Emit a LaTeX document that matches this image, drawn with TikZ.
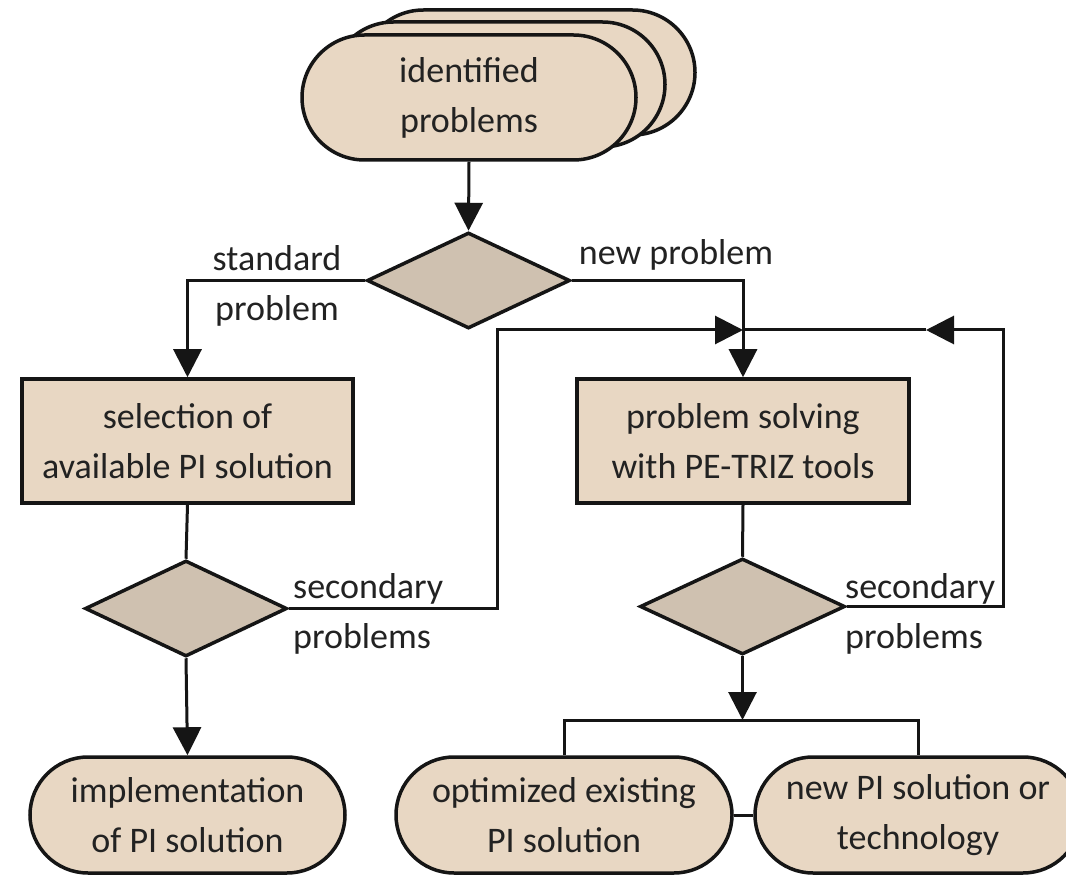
\documentclass[tikz,border=0pt]{standalone}
\usepackage{fontspec}
\setmainfont{Carlito}
\usetikzlibrary{arrows.meta,shapes.geometric}

\definecolor{boxfill}{HTML}{E8D7C3}
\definecolor{decfill}{HTML}{CFC1B0}
\definecolor{ink}{HTML}{151515}
\definecolor{txt}{HTML}{222222}

\tikzset{
  every node/.style={font=\fontsize{36}{50}\selectfont, text=txt, align=center, inner sep=0pt},
  shapeborder/.style={draw=ink, line width=3.5pt},
  stadium/.style={shapeborder, fill=boxfill, rectangle, rounded corners=#1},
  procbox/.style={shapeborder, fill=boxfill, rectangle, minimum width=331pt, minimum height=124pt},
  decision/.style={shapeborder, fill=decfill, diamond, minimum width=203pt, minimum height=96pt},
  conn/.style={draw=ink, line width=3pt},
  arrowconn/.style={conn, -{Triangle[length=28pt,width=28pt]}},
  lbl/.style={text=txt}
}

\begin{document}
\begin{tikzpicture}[x=1pt,y=-1pt]
  \useasboundingbox[fill=white] (0,0) rectangle (1066,877);
  \clip (0,0) rectangle (1066,877);

  % stacked start terminals
  \node[stadium=62.5pt, minimum width=334pt, minimum height=125pt] (top3) at (528,72.5) {};
  \node[stadium=62.5pt, minimum width=334pt, minimum height=125pt] (top2) at (498,84.5) {};
  \node[stadium=62.5pt, minimum width=334pt, minimum height=125pt] (top1) at (469,97.5) {identified\\problems};

  % first decision
  \node[decision] (d1) at (468.5,280.5) {};

  % process boxes
  \node[procbox] (selbox) at (187.5,441) {selection of\\available PI solution};
  \node[procbox, minimum width=332pt] (solvebox) at (743,441) {problem solving\\with PE-TRIZ tools};

  % second-level decisions
  \node[decision, minimum width=202pt] (d2) at (186,608.5) {};
  \node[decision, minimum width=205pt] (d3) at (742.5,606.5) {};

  % end terminals
  \node[stadium=58pt, minimum width=315pt, minimum height=116pt] (impl) at (187.5,815) {implementation\\of PI solution};
  \node[stadium=58pt, minimum width=336pt, minimum height=116pt] (opt) at (564,815) {optimized existing\\PI solution};
  \node[stadium=58pt, minimum width=326pt, minimum height=116pt] (newpi) at (918,815) {new PI solution or\\technology};

  % helper points for the feedback loops and the fork
  \coordinate (loopL) at (497,330);
  \coordinate (loopR) at (1003,330);
  \coordinate (meet) at (solvebox.north |- loopL);
  \coordinate (tipR) at (926,330);
  \coordinate (fork) at (742.5,720);

  % connectors
  \draw[arrowconn] (top1.south) -- (d1.north);
  \draw[arrowconn] (d1.west) -| (selbox.north);
  \draw[arrowconn] (d1.east) -| (solvebox.north);
  \draw[conn] (selbox.south) -- (d2.north);
  \draw[conn] (solvebox.south) -- (d3.north);
  \draw[arrowconn] (d2.east) -| (loopL) -- (meet);
  \draw[arrowconn] (d3.east) -| (loopR) -- (tipR);
  \draw[conn] (tipR) -- (meet);
  \draw[arrowconn] (d2.south) -- (impl.north);
  \draw[arrowconn] (d3.south) -- (fork);
  \draw[conn] (opt.north) |- (fork) -| (newpi.north);
  \draw[conn] (opt.east) -- (newpi.west);

  % branch labels
  \node[lbl] (lstd) at (277,286) {standard\\problem};
  \node[lbl, anchor=base] (lnew) at (676,265) {new problem};
  \node[lbl, anchor=west, align=left] (lsec1) at (293,614) {secondary\\problems};
  \node[lbl, anchor=west, align=left] (lsec2) at (845,614) {secondary\\problems};
\end{tikzpicture}
\end{document}
